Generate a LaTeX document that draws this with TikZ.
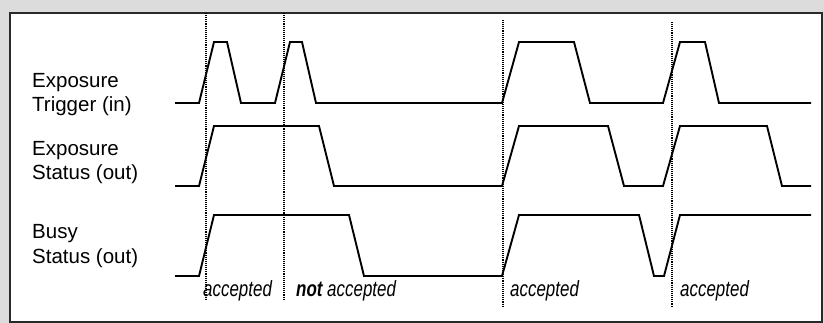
\documentclass[tikz,border=0pt]{standalone}
\usepackage{fontspec}
\setmainfont{Liberation Sans}
\newfontfamily\narrowfont[FakeStretch=0.77]{Liberation Sans}
\definecolor{bggray}{HTML}{DCDCDC}
\definecolor{framegray}{HTML}{2A2A2A}
\begin{document}
\begin{tikzpicture}[x=1pt,y=-1pt,
  signal/.style={line width=1.9pt, line join=miter, black},
  marker/.style={line width=1.5pt, dash pattern=on 1.1pt off 1.0pt, black},
  signame/.style={anchor=base west, inner sep=0pt, font=\fontsize{20.5}{24}\selectfont},
  acclabel/.style={anchor=base west, inner sep=0pt, font=\narrowfont\itshape\fontsize{22}{24}\selectfont}]
\useasboundingbox (0,0) rectangle (824,323);
\fill[bggray] (0,0) rectangle (824,323);
\fill[white] (9,12) rectangle (823,323);
\draw[framegray, line width=1.8pt] (10,13) rectangle (822,322);

% labels
\node[signame] (trigA) at (32,88) {Exposure};
\node[signame] (trigB) at (32,112) {Trigger (in)};
\node[signame] (expA) at (32,156) {Exposure};
\node[signame] (expB) at (32,180) {Status (out)};
\node[signame] (busyA) at (32,238) {Busy};
\node[signame] (busyB) at (32,263) {Status (out)};

% trigger
\draw[signal] (175,103) -- (199,103) -- (214,42) -- (227,42) -- (241,103) -- (275,103)
  -- (290,42) -- (302,42) -- (316,103) -- (502,103) -- (519,42) -- (574,42) -- (590,103)
  -- (663,103) -- (680,42) -- (705,42) -- (719,103) -- (811,103);
% exposure status
\draw[signal] (175,186) -- (199,186) -- (214,126) -- (319,126) -- (334,186) -- (502,186)
  -- (519,126) -- (608,126) -- (624,186) -- (663,186) -- (680,126) -- (767,126)
  -- (782,186) -- (811,186);
% busy status
\draw[signal] (175,276) -- (199,276) -- (214,215) -- (349,215) -- (364,276) -- (502,276)
  -- (519,215) -- (639,215) -- (654,276) -- (664,276) -- (680,215) -- (811,215);

% markers
\coordinate (m1t) at (206,13); \coordinate (m1b) at (206,299);
\coordinate (m2t) at (284,13); \coordinate (m2b) at (284,300);
\coordinate (m3t) at (503,20); \coordinate (m3b) at (503,307);
\coordinate (m4t) at (672,22); \coordinate (m4b) at (672,307);
\draw[marker] (m1t) -- (m1b);
\draw[marker] (m2t) -- (m2b);
\draw[marker] (m3t) -- (m3b);
\draw[marker] (m4t) -- (m4b);

% acceptance labels
\node[acclabel] (acc1) at (203,296) {accepted};
\node[acclabel] (acc2) at (296,296) {{\bfseries not} accepted};
\node[acclabel] (acc3) at (510,296) {accepted};
\node[acclabel] (acc4) at (680,296) {accepted};
\end{tikzpicture}
\end{document}
